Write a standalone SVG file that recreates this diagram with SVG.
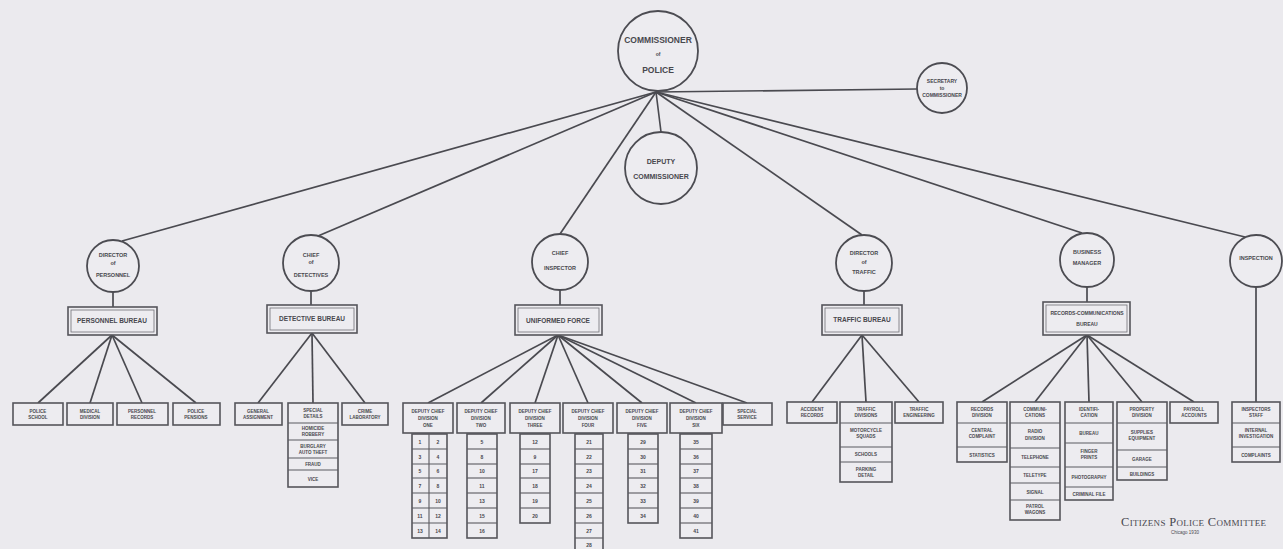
<svg xmlns="http://www.w3.org/2000/svg" width="1283" height="549" viewBox="0 0 1283 549">
<style>
.bg{fill:#ebeaee}
.c{fill:#edecf0;stroke:#4c4c52;stroke-width:1.8}
.b{fill:#edecf0;stroke:#55555b;stroke-width:1.6}
.bi{fill:none;stroke:#707076;stroke-width:0.8}
.sep{stroke:#5a5a60;stroke-width:1.1}
#connectors line{stroke:#4a4a50;stroke-width:1.7}
text{font-family:"Liberation Sans",Arial,sans-serif;fill:#48484e;text-anchor:middle;font-weight:bold}
.t4{font-size:4.5px}
.t5{font-size:5px}
.tc{font-size:5.5px}
.th{font-size:6.5px}
.t6{font-size:7px}
.t7{font-size:8.5px}
.sig{font-family:"Liberation Serif",serif;font-size:12.5px;font-weight:normal;text-anchor:start;font-variant:small-caps;letter-spacing:0.3px}
</style>
<rect class="bg" width="1283" height="549"/>

<g id="connectors">
<line x1="656" y1="92" x2="122" y2="241"/>
<line x1="656" y1="92" x2="318" y2="236"/>
<line x1="656" y1="92" x2="560" y2="234"/>
<line x1="656" y1="92" x2="661" y2="132"/>
<line x1="656" y1="92" x2="862" y2="235"/>
<line x1="656" y1="92" x2="1082" y2="233"/>
<line x1="656" y1="92" x2="1245" y2="237"/>
<line x1="656" y1="92" x2="917" y2="89"/>
<line x1="113" y1="292" x2="113" y2="307"/>
<line x1="311" y1="291" x2="311" y2="305"/>
<line x1="560" y1="290" x2="560" y2="305"/>
<line x1="864" y1="291" x2="864" y2="305"/>
<line x1="1087" y1="287" x2="1087" y2="302"/>
<line x1="1256" y1="287" x2="1256" y2="402"/>
<line x1="112" y1="335" x2="38" y2="403"/>
<line x1="112" y1="335" x2="90" y2="403"/>
<line x1="112" y1="335" x2="142" y2="403"/>
<line x1="112" y1="335" x2="196" y2="403"/>
<line x1="312" y1="333" x2="258" y2="403"/>
<line x1="312" y1="333" x2="313" y2="403"/>
<line x1="312" y1="333" x2="365" y2="403"/>
<line x1="558" y1="335" x2="428" y2="403"/>
<line x1="558" y1="335" x2="481" y2="403"/>
<line x1="558" y1="335" x2="535" y2="403"/>
<line x1="558" y1="335" x2="588" y2="403"/>
<line x1="558" y1="335" x2="642" y2="403"/>
<line x1="558" y1="335" x2="696" y2="403"/>
<line x1="558" y1="335" x2="747" y2="403"/>
<line x1="862" y1="335" x2="812" y2="402"/>
<line x1="862" y1="335" x2="866" y2="402"/>
<line x1="862" y1="335" x2="919" y2="402"/>
<line x1="1087" y1="335" x2="982" y2="402"/>
<line x1="1087" y1="335" x2="1035" y2="402"/>
<line x1="1087" y1="335" x2="1089" y2="402"/>
<line x1="1087" y1="335" x2="1142" y2="402"/>
<line x1="1087" y1="335" x2="1194" y2="402"/>
</g>

<g id="commissioner">
<circle class="c" cx="658" cy="51" r="40"/>
<text class="t7" x="658" y="43">COMMISSIONER</text>
<text class="t5" x="658" y="56">of</text>
<text class="t7" x="658" y="73">POLICE</text>
</g>
<g id="secretary">
<circle class="c" cx="942" cy="88" r="25"/>
<text class="t5" x="942" y="83">SECRETARY</text>
<text class="t5" x="942" y="90">to</text>
<text class="t5" x="942" y="97">COMMISSIONER</text>
</g>
<g id="deputy">
<circle class="c" cx="661" cy="168" r="36"/>
<text class="t6" x="661" y="164">DEPUTY</text>
<text class="t6" x="661" y="179">COMMISSIONER</text>
</g>

<g id="personnel">
<circle class="c" cx="113" cy="266" r="26"/>
<text class="tc" x="113" y="257">DIRECTOR</text>
<text class="tc" x="113" y="265">of</text>
<text class="tc" x="113" y="277">PERSONNEL</text>
<rect class="b" x="68" y="307" width="89" height="28"/>
<rect class="bi" x="71" y="310" width="83" height="22"/>
<text class="th" x="112" y="323">PERSONNEL BUREAU</text>
</g>
<g id="personnel-units">
<rect class="b" x="13" y="403" width="50" height="22"/><text class="t4" x="38" y="413">POLICE</text><text class="t4" x="38" y="419">SCHOOL</text>
<rect class="b" x="67" y="403" width="46" height="22"/><text class="t4" x="90" y="413">MEDICAL</text><text class="t4" x="90" y="419">DIVISION</text>
<rect class="b" x="117" y="403" width="51" height="22"/><text class="t4" x="142" y="413">PERSONNEL</text><text class="t4" x="142" y="419">RECORDS</text>
<rect class="b" x="173" y="403" width="47" height="22"/><text class="t4" x="196" y="413">POLICE</text><text class="t4" x="196" y="419">PENSIONS</text>
</g>

<g id="detective">
<circle class="c" cx="311" cy="263" r="28"/>
<text class="tc" x="311" y="257">CHIEF</text>
<text class="tc" x="311" y="264">of</text>
<text class="tc" x="311" y="277">DETECTIVES</text>
<rect class="b" x="267" y="305" width="90" height="28"/>
<rect class="bi" x="270" y="308" width="84" height="22"/>
<text class="th" x="312" y="321">DETECTIVE BUREAU</text>
</g>
<g id="detective-units">
<rect class="b" x="235" y="403" width="47" height="22"/><text class="t4" x="258" y="413">GENERAL</text><text class="t4" x="258" y="419">ASSIGNMENT</text>
<rect class="b" x="288" y="403" width="50" height="84"/>
<line class="sep" x1="288" y1="423" x2="338" y2="423"/><line class="sep" x1="288" y1="440" x2="338" y2="440"/><line class="sep" x1="288" y1="458" x2="338" y2="458"/><line class="sep" x1="288" y1="470" x2="338" y2="470"/>
<text class="t4" x="313" y="412">SPECIAL</text><text class="t4" x="313" y="418">DETAILS</text>
<text class="t4" x="313" y="430">HOMICIDE</text><text class="t4" x="313" y="436">ROBBERY</text>
<text class="t4" x="313" y="448">BURGLARY</text><text class="t4" x="313" y="454">AUTO THEFT</text>
<text class="t4" x="313" y="466">FRAUD</text>
<text class="t4" x="313" y="481">VICE</text>
<rect class="b" x="342" y="403" width="46" height="22"/><text class="t4" x="365" y="413">CRIME</text><text class="t4" x="365" y="419">LABORATORY</text>
</g>

<g id="uniformed">
<circle class="c" cx="560" cy="262" r="28"/>
<text class="tc" x="560" y="255">CHIEF</text>
<text class="tc" x="560" y="270">INSPECTOR</text>
<rect class="b" x="515" y="305" width="87" height="30"/>
<rect class="bi" x="518" y="308" width="81" height="24"/>
<text class="th" x="558" y="323">UNIFORMED FORCE</text>
</g>
<g id="uniformed-units">
<rect class="b" x="403" y="403" width="50" height="30"/><text class="t4" x="428" y="413">DEPUTY CHIEF</text><text class="t4" x="428" y="420">DIVISION</text><text class="t4" x="428" y="427">ONE</text>
<rect class="b" x="457" y="403" width="48" height="30"/><text class="t4" x="481" y="413">DEPUTY CHIEF</text><text class="t4" x="481" y="420">DIVISION</text><text class="t4" x="481" y="427">TWO</text>
<rect class="b" x="510" y="403" width="50" height="30"/><text class="t4" x="535" y="413">DEPUTY CHIEF</text><text class="t4" x="535" y="420">DIVISION</text><text class="t4" x="535" y="427">THREE</text>
<rect class="b" x="563" y="403" width="50" height="30"/><text class="t4" x="588" y="413">DEPUTY CHIEF</text><text class="t4" x="588" y="420">DIVISION</text><text class="t4" x="588" y="427">FOUR</text>
<rect class="b" x="617" y="403" width="50" height="30"/><text class="t4" x="642" y="413">DEPUTY CHIEF</text><text class="t4" x="642" y="420">DIVISION</text><text class="t4" x="642" y="427">FIVE</text>
<rect class="b" x="670" y="403" width="52" height="30"/><text class="t4" x="696" y="413">DEPUTY CHIEF</text><text class="t4" x="696" y="420">DIVISION</text><text class="t4" x="696" y="427">SIX</text>
<rect class="b" x="723" y="403" width="49" height="22"/><text class="t4" x="747" y="413">SPECIAL</text><text class="t4" x="747" y="419">SERVICE</text>
</g>
<g id="districts">
<rect class="b" x="412" y="434" width="35" height="104"/>
<line class="sep" x1="429" y1="434" x2="429" y2="538"/>
<line class="sep" x1="412" y1="449" x2="447" y2="449"/><line class="sep" x1="412" y1="464" x2="447" y2="464"/><line class="sep" x1="412" y1="478" x2="447" y2="478"/><line class="sep" x1="412" y1="493" x2="447" y2="493"/><line class="sep" x1="412" y1="508" x2="447" y2="508"/><line class="sep" x1="412" y1="523" x2="447" y2="523"/>
<text class="t5" x="420" y="444">1</text><text class="t5" x="438" y="444">2</text>
<text class="t5" x="420" y="459">3</text><text class="t5" x="438" y="459">4</text>
<text class="t5" x="420" y="473">5</text><text class="t5" x="438" y="473">6</text>
<text class="t5" x="420" y="488">7</text><text class="t5" x="438" y="488">8</text>
<text class="t5" x="420" y="503">9</text><text class="t5" x="438" y="503">10</text>
<text class="t5" x="420" y="518">11</text><text class="t5" x="438" y="518">12</text>
<text class="t5" x="420" y="533">13</text><text class="t5" x="438" y="533">14</text>

<rect class="b" x="467" y="434" width="30" height="104"/>
<line class="sep" x1="467" y1="449" x2="497" y2="449"/><line class="sep" x1="467" y1="464" x2="497" y2="464"/><line class="sep" x1="467" y1="478" x2="497" y2="478"/><line class="sep" x1="467" y1="493" x2="497" y2="493"/><line class="sep" x1="467" y1="508" x2="497" y2="508"/><line class="sep" x1="467" y1="523" x2="497" y2="523"/>
<text class="t5" x="482" y="444">5</text><text class="t5" x="482" y="459">8</text><text class="t5" x="482" y="473">10</text><text class="t5" x="482" y="488">11</text><text class="t5" x="482" y="503">13</text><text class="t5" x="482" y="518">15</text><text class="t5" x="482" y="533">16</text>

<rect class="b" x="520" y="434" width="30" height="89"/>
<line class="sep" x1="520" y1="449" x2="550" y2="449"/><line class="sep" x1="520" y1="464" x2="550" y2="464"/><line class="sep" x1="520" y1="478" x2="550" y2="478"/><line class="sep" x1="520" y1="493" x2="550" y2="493"/><line class="sep" x1="520" y1="508" x2="550" y2="508"/>
<text class="t5" x="535" y="444">12</text><text class="t5" x="535" y="459">9</text><text class="t5" x="535" y="473">17</text><text class="t5" x="535" y="488">18</text><text class="t5" x="535" y="503">19</text><text class="t5" x="535" y="518">20</text>

<rect class="b" x="575" y="434" width="28" height="118"/>
<line class="sep" x1="575" y1="449" x2="603" y2="449"/><line class="sep" x1="575" y1="464" x2="603" y2="464"/><line class="sep" x1="575" y1="478" x2="603" y2="478"/><line class="sep" x1="575" y1="493" x2="603" y2="493"/><line class="sep" x1="575" y1="508" x2="603" y2="508"/><line class="sep" x1="575" y1="523" x2="603" y2="523"/><line class="sep" x1="575" y1="538" x2="603" y2="538"/>
<text class="t5" x="589" y="444">21</text><text class="t5" x="589" y="459">22</text><text class="t5" x="589" y="473">23</text><text class="t5" x="589" y="488">24</text><text class="t5" x="589" y="503">25</text><text class="t5" x="589" y="518">26</text><text class="t5" x="589" y="533">27</text><text class="t5" x="589" y="547">28</text>

<rect class="b" x="628" y="434" width="30" height="89"/>
<line class="sep" x1="628" y1="449" x2="658" y2="449"/><line class="sep" x1="628" y1="464" x2="658" y2="464"/><line class="sep" x1="628" y1="478" x2="658" y2="478"/><line class="sep" x1="628" y1="493" x2="658" y2="493"/><line class="sep" x1="628" y1="508" x2="658" y2="508"/>
<text class="t5" x="643" y="444">29</text><text class="t5" x="643" y="459">30</text><text class="t5" x="643" y="473">31</text><text class="t5" x="643" y="488">32</text><text class="t5" x="643" y="503">33</text><text class="t5" x="643" y="518">34</text>

<rect class="b" x="680" y="434" width="32" height="104"/>
<line class="sep" x1="680" y1="449" x2="712" y2="449"/><line class="sep" x1="680" y1="464" x2="712" y2="464"/><line class="sep" x1="680" y1="478" x2="712" y2="478"/><line class="sep" x1="680" y1="493" x2="712" y2="493"/><line class="sep" x1="680" y1="508" x2="712" y2="508"/><line class="sep" x1="680" y1="523" x2="712" y2="523"/>
<text class="t5" x="696" y="444">35</text><text class="t5" x="696" y="459">36</text><text class="t5" x="696" y="473">37</text><text class="t5" x="696" y="488">38</text><text class="t5" x="696" y="503">39</text><text class="t5" x="696" y="518">40</text><text class="t5" x="696" y="533">41</text>
</g>

<g id="traffic">
<circle class="c" cx="864" cy="263" r="28"/>
<text class="tc" x="864" y="255">DIRECTOR</text>
<text class="tc" x="864" y="264">of</text>
<text class="tc" x="864" y="274">TRAFFIC</text>
<rect class="b" x="822" y="305" width="80" height="30"/>
<rect class="bi" x="825" y="308" width="74" height="24"/>
<text class="th" x="862" y="322">TRAFFIC BUREAU</text>
</g>
<g id="traffic-units">
<rect class="b" x="787" y="402" width="50" height="21"/><text class="t4" x="812" y="411">ACCIDENT</text><text class="t4" x="812" y="417">RECORDS</text>
<rect class="b" x="840" y="402" width="52" height="80"/>
<line class="sep" x1="840" y1="423" x2="892" y2="423"/><line class="sep" x1="840" y1="447" x2="892" y2="447"/><line class="sep" x1="840" y1="462" x2="892" y2="462"/>
<text class="t4" x="866" y="411">TRAFFIC</text><text class="t4" x="866" y="417">DIVISIONS</text>
<text class="t4" x="866" y="432">MOTORCYCLE</text><text class="t4" x="866" y="438">SQUADS</text>
<text class="t4" x="866" y="456">SCHOOLS</text>
<text class="t4" x="866" y="471">PARKING</text><text class="t4" x="866" y="477">DETAIL</text>
<rect class="b" x="895" y="402" width="48" height="21"/><text class="t4" x="919" y="411">TRAFFIC</text><text class="t4" x="919" y="417">ENGINEERING</text>
</g>

<g id="records">
<circle class="c" cx="1087" cy="260" r="27"/>
<text class="tc" x="1087" y="254">BUSINESS</text>
<text class="tc" x="1087" y="265">MANAGER</text>
<rect class="b" x="1043" y="302" width="87" height="33"/>
<rect class="bi" x="1046" y="305" width="81" height="27"/>
<text class="t5" x="1087" y="315">RECORDS-COMMUNICATIONS</text>
<text class="t5" x="1087" y="326">BUREAU</text>
</g>
<g id="records-units">
<rect class="b" x="957" y="402" width="50" height="60"/>
<line class="sep" x1="957" y1="423" x2="1007" y2="423"/><line class="sep" x1="957" y1="447" x2="1007" y2="447"/>
<text class="t4" x="982" y="411">RECORDS</text><text class="t4" x="982" y="417">DIVISION</text>
<text class="t4" x="982" y="432">CENTRAL</text><text class="t4" x="982" y="438">COMPLAINT</text>
<text class="t4" x="982" y="457">STATISTICS</text>
<rect class="b" x="1010" y="402" width="50" height="118"/>
<line class="sep" x1="1010" y1="423" x2="1060" y2="423"/><line class="sep" x1="1010" y1="448" x2="1060" y2="448"/><line class="sep" x1="1010" y1="467" x2="1060" y2="467"/><line class="sep" x1="1010" y1="483" x2="1060" y2="483"/><line class="sep" x1="1010" y1="500" x2="1060" y2="500"/>
<text class="t4" x="1035" y="411">COMMUNI-</text><text class="t4" x="1035" y="417">CATIONS</text>
<text class="t4" x="1035" y="433">RADIO</text><text class="t4" x="1035" y="440">DIVISION</text>
<text class="t4" x="1035" y="459">TELEPHONE</text>
<text class="t4" x="1035" y="477">TELETYPE</text>
<text class="t4" x="1035" y="494">SIGNAL</text>
<text class="t4" x="1035" y="508">PATROL</text><text class="t4" x="1035" y="514">WAGONS</text>
<rect class="b" x="1065" y="402" width="48" height="98"/>
<line class="sep" x1="1065" y1="423" x2="1113" y2="423"/><line class="sep" x1="1065" y1="443" x2="1113" y2="443"/><line class="sep" x1="1065" y1="467" x2="1113" y2="467"/><line class="sep" x1="1065" y1="487" x2="1113" y2="487"/>
<text class="t4" x="1089" y="411">IDENTIFI-</text><text class="t4" x="1089" y="417">CATION</text>
<text class="t4" x="1089" y="435">BUREAU</text>
<text class="t4" x="1089" y="453">FINGER</text><text class="t4" x="1089" y="459">PRINTS</text>
<text class="t4" x="1089" y="479">PHOTOGRAPHY</text>
<text class="t4" x="1089" y="496">CRIMINAL FILE</text>
<rect class="b" x="1117" y="402" width="50" height="78"/>
<line class="sep" x1="1117" y1="423" x2="1167" y2="423"/><line class="sep" x1="1117" y1="450" x2="1167" y2="450"/><line class="sep" x1="1117" y1="467" x2="1167" y2="467"/>
<text class="t4" x="1142" y="411">PROPERTY</text><text class="t4" x="1142" y="417">DIVISION</text>
<text class="t4" x="1142" y="434">SUPPLIES</text><text class="t4" x="1142" y="440">EQUIPMENT</text>
<text class="t4" x="1142" y="461">GARAGE</text>
<text class="t4" x="1142" y="476">BUILDINGS</text>
<rect class="b" x="1170" y="402" width="48" height="21"/><text class="t4" x="1194" y="411">PAYROLL</text><text class="t4" x="1194" y="417">ACCOUNTS</text>
</g>

<g id="inspection">
<circle class="c" cx="1256" cy="261" r="26"/>
<text class="tc" x="1256" y="260">INSPECTION</text>
<rect class="b" x="1232" y="402" width="48" height="60"/>
<line class="sep" x1="1232" y1="423" x2="1280" y2="423"/><line class="sep" x1="1232" y1="447" x2="1280" y2="447"/>
<text class="t4" x="1256" y="411">INSPECTORS</text><text class="t4" x="1256" y="417">STAFF</text>
<text class="t4" x="1256" y="432">INTERNAL</text><text class="t4" x="1256" y="438">INVESTIGATION</text>
<text class="t4" x="1256" y="457">COMPLAINTS</text>
</g>

<g id="signature">
<text class="sig" x="1121" y="526">Citizens Police Committee</text>
<text class="t4" x="1185" y="534" style="font-weight:normal">Chicago 1930</text>
</g>
</svg>
